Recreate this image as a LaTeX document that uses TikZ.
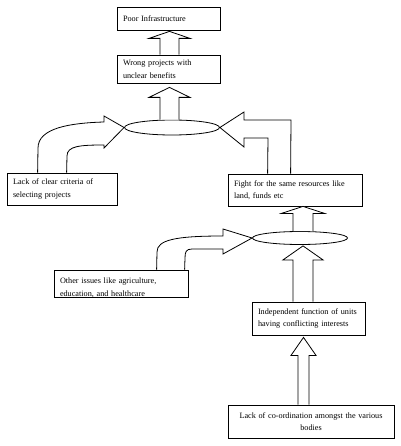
\documentclass[tikz,border=0pt]{standalone}
\usepackage{fontspec}
\setmainfont{Liberation Serif}
\usetikzlibrary{shapes.geometric,calc}

\tikzset{
  box/.style={draw, line width=0.8pt, align=left, inner xsep=6pt, inner ysep=2pt,
    font=\fontsize{8.2}{12.5}\selectfont},
  hub/.style={draw, line width=0.8pt, ellipse, inner sep=0pt},
  blockarrow/.style={draw, line width=0.8pt, line join=miter, fill=white}
}

% vertical block arrow: base, tip, shaft half width, head half width, head length
\newcommand{\blockup}[5]{%
  \draw[blockarrow] let \p1=(#1), \p2=(#2) in
    (\x2-#3pt,\y1) -- (\x2-#3pt,\y2-#5pt) -- (\x2-#4pt,\y2-#5pt) -- (\x2,\y2)
    -- (\x2+#4pt,\y2-#5pt) -- (\x2+#3pt,\y2-#5pt) -- (\x2+#3pt,\y1);}

\begin{document}
\begin{tikzpicture}[x=1pt, y=-1pt]
  \useasboundingbox (0,0) rectangle (400,446);

  % boxes
  \node[box, text width=91pt, minimum height=23pt] (poor) at (168.5,18.5) {Poor Infrastructure};
  \node[box, text width=91pt, minimum height=28pt] (wrong) at (168.5,69) {Wrong projects with\\unclear benefits};
  \node[box, text width=98pt, minimum height=32pt] (criteria) at (62,189) {Lack of clear criteria of\\selecting projects};
  \node[box, text width=122pt, minimum height=32pt] (fight) at (295,190) {Fight for the same resources like\\land, funds etc};
  \node[box, text width=101pt, minimum height=33pt] (units) at (308.5,318.5) {Independent function of units\\having conflicting interests};
  \node[box, align=center, text width=154pt, minimum height=33pt] (coord) at (311,421.5) {Lack of co-ordination amongst the various\\bodies};

  % box whose text runs over its lower edge
  \node[box, minimum width=134pt, minimum height=27pt] (other) at (121,283.5) {};
  \begin{scope}
    \clip (other.north west) rectangle (other.south east);
    \node[box, draw=none, anchor=north west, text width=122pt] (othertext) at ($(other.north west)+(0,6)$)
      {Other issues like agriculture,\\education, and healthcare};
  \end{scope}

  % ellipses
  \node[hub, minimum width=95pt, minimum height=15pt] (crux) at (172,127.5) {};
  \node[hub, minimum width=95pt, minimum height=13pt] (compete) at (300,238) {};

  % straight block arrows
  \blockup{wrong.north}{$(poor.south)+(1,1)$}{9.5}{20.5}{7}
  \blockup{crux.north}{$(wrong.south)+(1,4)$}{9.5}{20.5}{10}
  \blockup{compete.north}{$(fight.south)+(8,0)$}{10}{21.5}{7}
  \blockup{units.north}{$(compete.south)+(3,1)$}{10}{20}{14}
  \blockup{coord.north}{$(units.south)+(-5,2)$}{5.5}{12.5}{18}

  % bent block arrows
  \draw[blockarrow] ($(criteria.north west)+(31,0)$) -- (38,148)
    .. controls (38,128) and (70,123) .. (104,122) -- (104,116) -- (crux.west)
    -- (104,148) -- (104,145) .. controls (80,145) and (67,146) .. (67,156)
    -- ($(criteria.north west)+(60,0)$);
  \draw[blockarrow] ($(other.north west)+(103,0)$) -- (157,252)
    .. controls (157,240) and (175,236) .. (223,236) -- (223,229) -- (compete.west)
    -- (223,254) -- (223,249) -- (192,249) .. controls (186,249) and (185,252) .. (185,258)
    -- ($(other.north west)+(131,0)$);
  \draw[blockarrow] ($(fight.north west)+(63,0)$) -- (291,120) -- (244,120) -- (244,112)
    -- (crux.east) -- (244,147) -- (244,138) -- (268,138) -- ($(fight.north west)+(40,0)$);
\end{tikzpicture}
\end{document}
